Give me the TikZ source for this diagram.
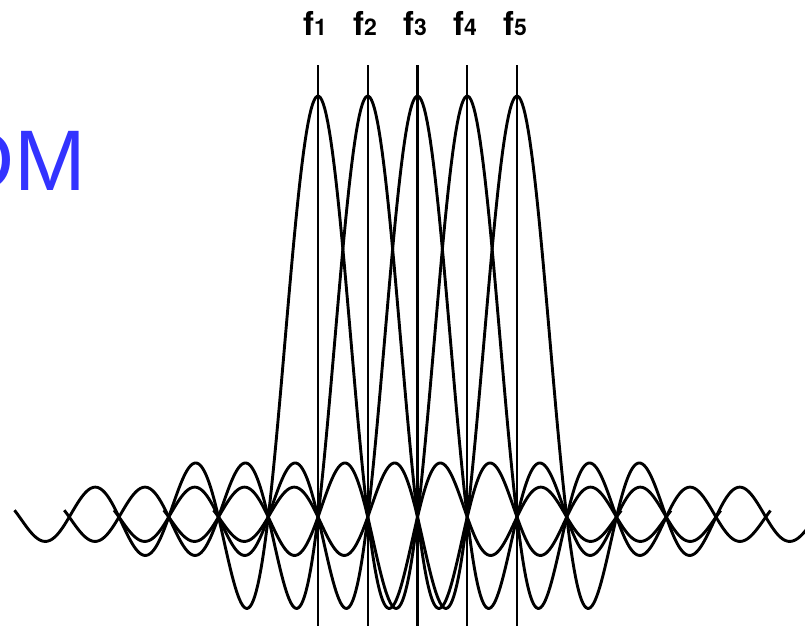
\documentclass[tikz,border=0pt]{standalone}
\usepackage{fontspec}
\usepackage{xcolor}
\usepackage{tikz}
\newfontfamily\titlefont{Liberation Sans}
\newfontfamily\labelfont{TeX Gyre Heros}
\definecolor{ofdmblue}{RGB}{51,51,255}

\begin{document}
\begin{tikzpicture}[
        x=1pt, y=-1pt,
        declare function={sincf(\u)=sin(180*\u)/(pi*\u);},
        carrier/.style={line width=2.9pt, line join=round, domain=-6.1:6.1, samples=400},
        marker/.style={line width=2.2pt},
        freq/.style={anchor=base, inner sep=0pt, font=\labelfont\bfseries\fontsize{33}{33}\selectfont},
        title/.style={anchor=base east, inner sep=0pt, text=ofdmblue, font=\titlefont\fontsize{86}{86}\selectfont}
    ]
        \useasboundingbox (0,0) rectangle (805,626);

        \node[title] (ofdm) at (86.5,190) {DM};

        \node[freq] (f1) at (315,36) {f{\fontsize{23}{23}\selectfont 1}};
        \node[freq] (f2) at (365,36) {f{\fontsize{23}{23}\selectfont 2}};
        \node[freq] (f3) at (415,36) {f{\fontsize{23}{23}\selectfont 3}};
        \node[freq] (f4) at (465,36) {f{\fontsize{23}{23}\selectfont 4}};
        \node[freq] (f5) at (515,36) {f{\fontsize{23}{23}\selectfont 5}};

        \coordinate (top1) at (318,65);    \coordinate (bot1) at (318,626);
        \coordinate (top2) at (367.75,65); \coordinate (bot2) at (367.75,626);
        \coordinate (top3) at (417.5,65);  \coordinate (bot3) at (417.5,626);
        \coordinate (top4) at (467.25,65); \coordinate (bot4) at (467.25,626);
        \coordinate (top5) at (517,65);    \coordinate (bot5) at (517,626);

        \draw[marker] (top1) -- (bot1);
        \draw[marker] (top2) -- (bot2);
        \draw[marker] (top3) -- (bot3);
        \draw[marker] (top4) -- (bot4);
        \draw[marker] (top5) -- (bot5);

        % subcarrier spectra
        \draw[carrier] plot ({318+49.75*\x}, {517-421*sincf(\x)});
        \draw[carrier] plot ({367.75+49.75*\x}, {517-421*sincf(\x)});
        \draw[carrier] plot ({417.5+49.75*\x}, {517-421*sincf(\x)});
        \draw[carrier] plot ({467.25+49.75*\x}, {517-421*sincf(\x)});
        \draw[carrier] plot ({517+49.75*\x}, {517-421*sincf(\x)});
    \end{tikzpicture}
\end{document}
